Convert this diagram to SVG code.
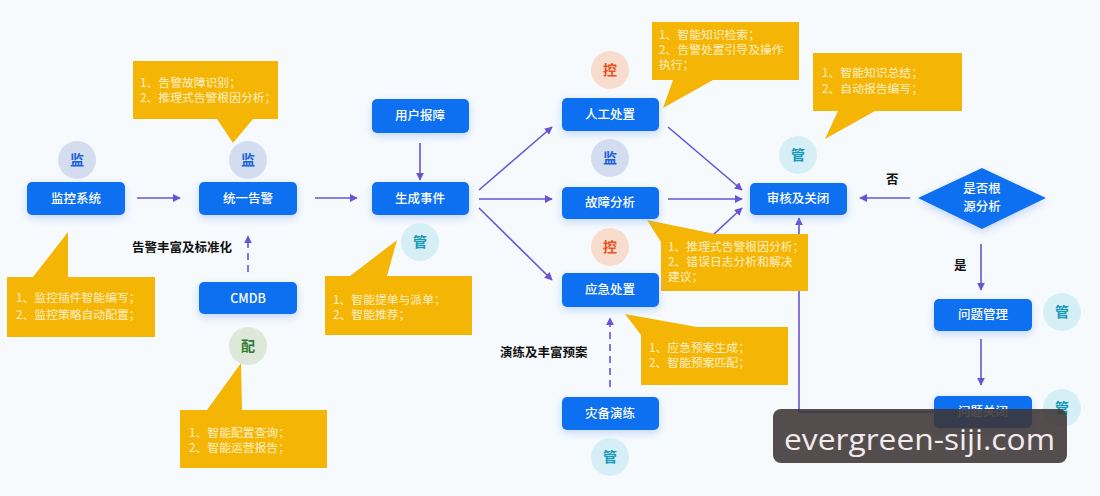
<svg xmlns="http://www.w3.org/2000/svg" width="1100" height="496" viewBox="0 0 1100 496">
<defs>
<style>
.node rect{fill:#0b6ff0;rx:5}
.nt{font-family:"Noto Sans CJK SC","Liberation Sans",sans-serif;font-size:12.5px;font-weight:500;fill:#fff;text-anchor:middle}
.call{fill:#f5b505}
.ct{font-family:"Noto Sans CJK SC","Liberation Sans",sans-serif;font-size:11.8px;fill:#fdf0c8}
.ln{stroke:#6a52d6;stroke-width:1.6;fill:none}
.dash{stroke-dasharray:7,5}
.lbl{font-family:"Noto Sans CJK SC","Liberation Sans",sans-serif;font-size:12.5px;font-weight:700;fill:#111}
.bt{font-family:"Noto Sans CJK SC","Liberation Sans",sans-serif;font-size:14px;font-weight:700;text-anchor:middle}
.b-jian circle{fill:#d3ddef}.b-jian text{fill:#1a63d8}
.b-guan circle{fill:#d6eff6}.b-guan text{fill:#1899b8}
.b-kong circle{fill:#f8dccd}.b-kong text{fill:#e8521c}
.b-pei circle{fill:#dde7da}.b-pei text{fill:#2f7a2f}
</style>
<filter id="sh" x="-30%" y="-40%" width="160%" height="200%">
<feDropShadow dx="0" dy="3" stdDeviation="4" flood-color="#7fa9f2" flood-opacity="0.45"/>
</filter>
<marker id="ar" viewBox="0 0 10 10" refX="9" refY="5" markerWidth="8" markerHeight="8" markerUnits="userSpaceOnUse" orient="auto">
<path d="M0,0 L10,5 L0,10 Z" fill="#6a52d6"/>
</marker>
</defs>
<rect width="1100" height="496" fill="#f7fafd"/>

<g id="connectors">
<line class="ln" x1="137" y1="198" x2="180" y2="198" marker-end="url(#ar)"/>
<line class="ln" x1="315" y1="198" x2="357" y2="198" marker-end="url(#ar)"/>
<line class="ln dash" x1="248" y1="272" x2="248" y2="236" marker-end="url(#ar)"/>
<line class="ln" x1="420" y1="143" x2="420" y2="180" marker-end="url(#ar)"/>
<line class="ln" x1="479" y1="190" x2="552" y2="127" marker-end="url(#ar)"/>
<line class="ln" x1="479" y1="199" x2="552" y2="199" marker-end="url(#ar)"/>
<line class="ln" x1="479" y1="208" x2="552" y2="280" marker-end="url(#ar)"/>
<line class="ln" x1="668" y1="127" x2="742" y2="190" marker-end="url(#ar)"/>
<line class="ln" x1="668" y1="199" x2="742" y2="199" marker-end="url(#ar)"/>
<line class="ln" x1="668" y1="277" x2="742" y2="208" marker-end="url(#ar)"/>
<polyline class="ln" points="934,412 799,412 799,218" marker-end="url(#ar)"/>
<line class="ln" x1="910" y1="198" x2="860" y2="198" marker-end="url(#ar)"/>
<line class="ln" x1="981" y1="244" x2="981" y2="290" marker-end="url(#ar)"/>
<line class="ln" x1="981" y1="339" x2="981" y2="385" marker-end="url(#ar)"/>
<line class="ln dash" x1="610" y1="387" x2="610" y2="318" marker-end="url(#ar)"/>
<text class="lbl" x="132" y="252">告警丰富及标准化</text>
<text class="lbl" x="500" y="357">演练及丰富预案</text>
<text class="lbl" x="886" y="184">否</text>
<text class="lbl" x="954" y="270">是</text>
</g>

<g id="callouts">
<path class="call" d="M133,61 H278 V119 H253 L233,143 L217,119 H133 Z"/>
<text class="ct" x="140" y="87">1、告警故障识别；</text>
<text class="ct" x="140" y="102">2、推理式告警根因分析；</text>
<path class="call" d="M7,277 H33 L68,232 V277 H155 V337 H7 Z"/>
<text class="ct" x="16" y="302">1、监控插件智能编写；</text>
<text class="ct" x="16" y="319">2、监控策略自动配置；</text>
<path class="call" d="M180,410 H207 L241,363 L242,410 H327 V468 H180 Z"/>
<text class="ct" x="189" y="437">1、智能配置查询；</text>
<text class="ct" x="189" y="452">2、智能运营报告；</text>
<path class="call" d="M325,276 H350 L397,240 L387,276 H472 V335 H325 Z"/>
<text class="ct" x="333" y="304">1、智能提单与派单；</text>
<text class="ct" x="333" y="319">2、智能推荐；</text>
<path class="call" d="M652,22 H799 V80 H713 L663,108 L673,80 H652 Z"/>
<text class="ct" x="659" y="39">1、智能知识检索；</text>
<text class="ct" x="659" y="54">2、告警处置引导及操作</text>
<text class="ct" x="659" y="69">执行；</text>
<path class="call" d="M813,53 H962 V111 H875 L825,139 L838,111 H813 Z"/>
<text class="ct" x="822" y="77">1、智能知识总结；</text>
<text class="ct" x="822" y="93">2、自动报告编写；</text>
<path class="call" d="M647,220 L715,234 H808 V291 H661 V242 Z"/>
<text class="ct" x="668" y="251">1、推理式告警根因分析；</text>
<text class="ct" x="668" y="266">2、错误日志分析和解决</text>
<text class="ct" x="668" y="281">建议；</text>
<path class="call" d="M625,314 L697,327 H788 V385 H641 V335 Z"/>
<text class="ct" x="649" y="352">1、应急预案生成；</text>
<text class="ct" x="649" y="367">2、智能预案匹配；</text>
</g>

<g id="n-jkxt" class="node"><rect x="27" y="182" width="98" height="33" filter="url(#sh)"/><text class="nt" x="76" y="203">监控系统</text></g>
<g id="n-tygj" class="node"><rect x="199" y="182" width="98" height="33" filter="url(#sh)"/><text class="nt" x="248" y="203">统一告警</text></g>
<g id="n-cmdb" class="node"><rect x="199" y="282" width="98" height="32" filter="url(#sh)"/><text class="nt" x="248" y="303">CMDB</text></g>
<g id="n-yhbz" class="node"><rect x="372" y="99" width="97" height="34" filter="url(#sh)"/><text class="nt" x="420" y="120">用户报障</text></g>
<g id="n-scsj" class="node"><rect x="372" y="182" width="97" height="33" filter="url(#sh)"/><text class="nt" x="420" y="203">生成事件</text></g>
<g id="n-rgcz" class="node"><rect x="562" y="98" width="97" height="33" filter="url(#sh)"/><text class="nt" x="610" y="119">人工处置</text></g>
<g id="n-gzfx" class="node"><rect x="562" y="187" width="97" height="32" filter="url(#sh)"/><text class="nt" x="610" y="207">故障分析</text></g>
<g id="n-yjcz" class="node"><rect x="562" y="273" width="97" height="34" filter="url(#sh)"/><text class="nt" x="610" y="294">应急处置</text></g>
<g id="n-zbyl" class="node"><rect x="562" y="397" width="97" height="33" filter="url(#sh)"/><text class="nt" x="610" y="418">灾备演练</text></g>
<g id="n-shgb" class="node"><rect x="750" y="183" width="97" height="32" filter="url(#sh)"/><text class="nt" x="798" y="203">审核及关闭</text></g>
<g id="n-sfgy" class="node"><path d="M918,198 L982,168 L1046,198 L982,229 Z" fill="#0b6ff0" filter="url(#sh)"/><text class="nt" x="982" y="193">是否根</text><text class="nt" x="982" y="211">源分析</text></g>
<g id="n-wtgl" class="node"><rect x="934" y="299" width="98" height="32" filter="url(#sh)"/><text class="nt" x="983" y="319">问题管理</text></g>
<g id="n-wtgb" class="node"><rect x="934" y="396" width="98" height="32" filter="url(#sh)"/><text class="nt" x="983" y="416">问题关闭</text></g>

<g id="badges">
<g class="b-jian"><circle cx="77" cy="160" r="19"/><text class="bt" x="77" y="165">监</text></g>
<g class="b-jian"><circle cx="248" cy="160" r="19"/><text class="bt" x="248" y="165">监</text></g>
<g class="b-pei"><circle cx="248" cy="346" r="19"/><text class="bt" x="248" y="351">配</text></g>
<g class="b-guan"><circle cx="420" cy="242" r="19"/><text class="bt" x="420" y="247">管</text></g>
<g class="b-kong"><circle cx="610" cy="70" r="19"/><text class="bt" x="610" y="75">控</text></g>
<g class="b-jian"><circle cx="610" cy="158" r="19"/><text class="bt" x="610" y="163">监</text></g>
<g class="b-kong"><circle cx="610" cy="247" r="19"/><text class="bt" x="610" y="252">控</text></g>
<g class="b-guan"><circle cx="610" cy="457" r="19"/><text class="bt" x="610" y="462">管</text></g>
<g class="b-guan"><circle cx="798" cy="155" r="19"/><text class="bt" x="798" y="160">管</text></g>
<g class="b-guan"><circle cx="1062" cy="312" r="19"/><text class="bt" x="1062" y="317">管</text></g>
<g class="b-guan"><circle cx="1062" cy="408" r="19"/><text class="bt" x="1062" y="413">管</text></g>
</g>

<g id="watermark">
<rect x="773" y="409" width="294" height="54" rx="8" fill="#3e3434" fill-opacity="0.88"/>
<text x="784" y="450" font-family="'Open Sans','DejaVu Sans',sans-serif" font-size="30" fill="#f3ebeb" textLength="271" lengthAdjust="spacingAndGlyphs">evergreen-siji.com</text>
</g>
</svg>
